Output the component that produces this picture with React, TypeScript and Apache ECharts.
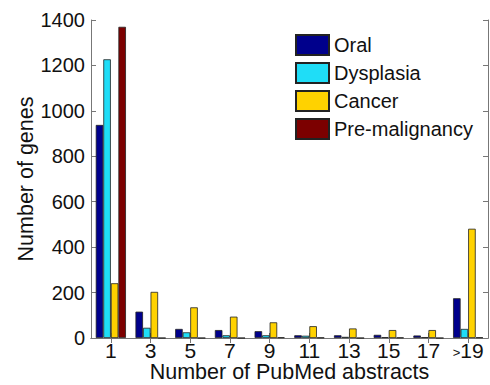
import React, { useEffect, useRef } from "react";
import * as echarts from "echarts";

const categories = ["1", "3", "5", "7", "9", "11", "13", "15", "17", ">19"];
const oral = [938, 116, 40, 35, 30, 12, 12, 14, 11, 175];
const dysplasia = [1227, 45, 25, 12, 12, 10, 5, 4, 4, 40];
const cancer = [241, 203, 135, 94, 69, 52, 42, 35, 35, 481];
const premalignancy = [1370, 0, 0, 0, 3, 2, 0, 2, 0, 3];
const yTicks = { min: 0, max: 1400, interval: 200 };

const seriesDefs = [
  { name: "Oral", data: oral, color: "#00008C" },
  { name: "Dysplasia", data: dysplasia, color: "#1FDDF7" },
  { name: "Cancer", data: cancer, color: "#FFD200" },
  { name: "Pre-malignancy", data: premalignancy, color: "#7C0000" },
];

export default function App() {
  const ref = useRef<HTMLDivElement>(null);
  useEffect(() => {
    if (!ref.current) return;
    const chart = echarts.init(ref.current, undefined, { renderer: "svg" });
    const font = "'Liberation Sans', Arial, sans-serif";
    const axisLine = { show: true, lineStyle: { color: "#777", width: 1 } };
    const tick = { show: true, inside: true, length: 5, lineStyle: { color: "#777" } };
    chart.setOption({
      animation: false,
      backgroundColor: "#fff",
      textStyle: { fontFamily: font },
      grid: { left: 91, top: 20, right: 2, bottom: 47, outerBoundsMode: "none", containLabel: false },
      legend: {
        orient: "vertical",
        left: 290,
        top: 29,
        icon: "rect",
        itemWidth: 33,
        itemHeight: 20,
        itemGap: 6,
        textStyle: { fontSize: 20, color: "#111", fontFamily: font },
        data: seriesDefs.map((s) => s.name),
      },
      xAxis: [
        {
          type: "category",
          data: categories,
          axisLine,
          axisTick: { ...tick, alignWithLabel: true, interval: 0 },
          axisLabel: {
            fontSize: 21,
            lineHeight: 17,
            color: "#111",
            margin: 4,
            interval: 0,
            fontFamily: font,
            formatter: (v: string) => (v.startsWith(">") ? "{s|>}" + v.slice(1) : v),
            rich: { s: { fontSize: 13, lineHeight: 17, color: "#111", fontFamily: font, padding: [4, 0, 0, 0] } },
          },
          name: "Number of PubMed abstracts",
          nameLocation: "middle",
          nameMoveOverlap: false,
          nameGap: 25,
          nameTextStyle: { fontSize: 21.5, lineHeight: 18, color: "#111", fontFamily: font },
        },
        {
          type: "category",
          data: categories,
          position: "top",
          axisLine,
          axisTick: { ...tick, alignWithLabel: true, interval: 0 },
          axisLabel: { show: false },
        },
      ],
      yAxis: [
        {
          type: "value",
          min: yTicks.min,
          max: yTicks.max,
          interval: yTicks.interval,
          axisLine,
          axisTick: tick,
          splitLine: { show: false },
          axisLabel: {
            fontSize: 20,
            color: "#111",
            margin: 6,
            fontFamily: font,
            formatter: (v: number) => String(v),
          },
          name: "Number of genes",
          nameLocation: "middle",
          nameMoveOverlap: false,
          nameGap: 54,
          nameTextStyle: { fontSize: 21.5, color: "#111", fontFamily: font },
        },
        {
          type: "value",
          min: yTicks.min,
          max: yTicks.max,
          interval: yTicks.interval,
          position: "right",
          axisLine,
          axisTick: tick,
          splitLine: { show: false },
          axisLabel: { show: false },
        },
      ],
      series: seriesDefs.map((s) => ({
        name: s.name,
        type: "bar",
        data: s.data,
        barGap: "0%",
        barCategoryGap: "24%",
        itemStyle: { color: s.color, borderColor: "#222", borderWidth: 0.8 },
      })),
    });
    return () => chart.dispose();
  }, []);
  return (
    <div
      ref={ref}
      style={{ width: 490, height: 385, position: "absolute", left: 0, top: 0 }}
    />
  );
}
